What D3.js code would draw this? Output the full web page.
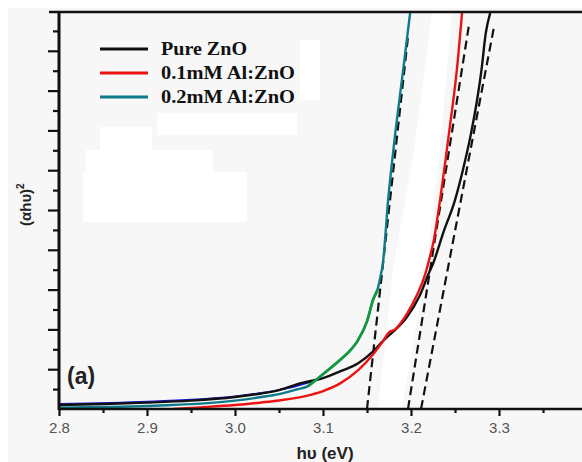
<!DOCTYPE html>
<html>
<head>
<meta charset="utf-8">
<script src="https://cdn.jsdelivr.net/npm/d3@7"></script>
<style>
  html, body { margin: 0; padding: 0; background: #ffffff; }
  svg { display: block; }
</style>
</head>
<body>
<svg id="chart" width="582" height="462"></svg>
<script>
// ---- data (x: photon energy hυ in eV, y: (αhυ)^2 in arbitrary units) ----
const xTicks = [2.8, 2.9, 3.0, 3.1, 3.2, 3.3, 3.4];
const xTickLabels = ["2.8", "2.9", "3.0", "3.1", "3.2", "3.3", "3"];
const seriesNames = ["Pure ZnO", "0.1mM Al:ZnO", "0.2mM Al:ZnO"];

const pureZnO = [
  [2.80,0.20],[2.85,0.25],[2.90,0.32],[2.95,0.42],[3.00,0.60],[3.03,0.78],
  [3.05,0.95],[3.075,1.30],[3.10,1.55],[3.12,1.90],[3.14,2.30],[3.157,2.90],
  [3.17,3.50],[3.18,3.90],[3.195,4.60],[3.21,5.70],[3.22,6.80],[3.225,7.30],
  [3.237,8.90],[3.25,10.5],[3.26,12.2],[3.268,13.8],[3.275,15.5],[3.28,17.0],
  [3.285,18.9],[3.29,19.9]
];
const al01 = [
  [2.93,0.00],[2.96,0.08],[3.00,0.20],[3.03,0.33],[3.05,0.43],[3.08,0.65],
  [3.10,0.90],[3.12,1.30],[3.14,1.95],[3.157,2.75],[3.168,3.40],[3.175,3.85],
  [3.182,4.00],[3.195,4.75],[3.207,5.75],[3.216,6.75],[3.22,7.40],[3.226,8.50],
  [3.233,10.5],[3.243,13.8],[3.252,17.0],[3.258,19.9]
];
const al02 = [
  [2.80,0.07],[2.90,0.15],[3.00,0.42],[3.03,0.60],[3.05,0.75],[3.07,0.98],
  [3.083,1.15],[3.093,1.50],[3.10,1.75],[3.119,2.45],[3.13,2.90],[3.139,3.40],
  [3.15,4.40],[3.157,5.50],[3.162,6.00],[3.165,6.60],[3.168,7.30],[3.174,10.5],
  [3.182,13.8],[3.191,17.0],[3.199,19.9]
];
// part of the 0.2mM curve drawn in green in the original
const al02GreenRange = [3.083, 3.162];
// faint blue trace under the pure ZnO curve at low energy
const blueTrace = [
  [2.80,0.25],[2.90,0.37],[3.00,0.63],[3.03,0.80],[3.06,1.05],[3.09,1.42]
];
// linear extrapolation (tangent) lines: [x at y=0, x at top, y at top]
const tangents = [
  [[3.150,0.0],[3.1966,18.7]],
  [[3.1966,0.0],[3.2659,19.3]],
  [[3.2114,0.0],[3.2943,19.2]]
];

// ---- layout ----
const svg = d3.select("#chart");
const W = 582, H = 462;
const x0 = 59, xEnd = 587, yBase = 409, yTop = 12;

const x = d3.scaleLinear().domain([2.8, 3.4]).range([x0, xEnd]);
const y = d3.scaleLinear().domain([0, 19.95]).range([yBase, yTop]);

// background
svg.append("rect").attr("x", 0).attr("y", 0).attr("width", W).attr("height", H).attr("fill", "#ffffff");
svg.append("rect").attr("x", 8).attr("y", 8).attr("width", W - 8).attr("height", H - 8).attr("fill", "#f7f7f7");

// faint white erasure patches of the original scan
const patches = [
  [157,113,140,22],[100,127,52,23],[86,150,127,22],[83,172,164,50],[300,40,20,60]
];
svg.append("g").selectAll("rect").data(patches).join("rect")
  .attr("x", d => d[0]).attr("y", d => d[1]).attr("width", d => d[2]).attr("height", d => d[3])
  .attr("fill", "#ffffff");
svg.append("path")
  .attr("d", "M432,13 L452,13 L440,150 L426,270 L402,408 L378,408 L393,270 L414,150 Z")
  .attr("fill", "#ffffff");

// clip region for curves
svg.append("clipPath").attr("id", "plotclip").append("rect")
  .attr("x", x0).attr("y", yTop).attr("width", W - x0).attr("height", yBase - yTop);

const line = d3.line().x(d => x(d[0])).y(d => y(d[1])).curve(d3.curveMonotoneX);
const plot = svg.append("g").attr("clip-path", "url(#plotclip)");

// tangent lines
plot.selectAll("path.tan").data(tangents).join("path")
  .attr("class", "tan")
  .attr("d", d3.line().x(d => x(d[0])).y(d => y(d[1])))
  .attr("fill", "none").attr("stroke", "#111").attr("stroke-width", 2.2)
  .attr("stroke-dasharray", "9,5");

// curves
plot.append("path").attr("d", line(al02)).attr("fill", "none")
  .attr("stroke", "#0f7a8a").attr("stroke-width", 2.4);
plot.append("path").attr("d", line(blueTrace)).attr("fill", "none")
  .attr("stroke", "#1a1adc").attr("stroke-width", 2);
plot.append("path").attr("d", line(pureZnO)).attr("fill", "none")
  .attr("stroke", "#111111").attr("stroke-width", 2.4);
plot.append("path").attr("d", line(al01)).attr("fill", "none")
  .attr("stroke", "#ee1111").attr("stroke-width", 2.4);
plot.append("path")
  .attr("d", line(al02.filter(d => d[0] >= al02GreenRange[0] && d[0] <= al02GreenRange[1])))
  .attr("fill", "none").attr("stroke", "#129a3a").attr("stroke-width", 2.6);

// axes
const xAxisMajor = d3.axisBottom(x).tickValues(xTicks).tickSize(7).tickFormat((d, i) => xTickLabels[i]);
const xAxisMinor = d3.axisBottom(x).tickValues(d3.range(2.85, 3.4, 0.1)).tickSize(4).tickFormat("");
const gx = svg.append("g").attr("transform", `translate(0,${yBase})`);
gx.append("g").call(xAxisMinor);
const gxm = gx.append("g").call(xAxisMajor);
gx.selectAll(".domain").remove();
gx.selectAll(".tick line").attr("stroke", "#111").attr("stroke-width", 2.2);
gxm.selectAll(".tick text")
  .attr("dy", "0.71em").attr("y", 13)
  .attr("font-family", "'Liberation Sans', Arial, sans-serif")
  .attr("font-size", 15).attr("fill", "#555");

const yTickVals = d3.range(1, 20);
const gy = svg.append("g").attr("transform", `translate(${x0},0)`);
gy.call(d3.axisLeft(y).tickValues(yTickVals.filter(v => v % 2 === 0)).tickSize(11).tickFormat(""));
gy.append("g").call(d3.axisLeft(y).tickValues(yTickVals.filter(v => v % 2 === 1)).tickSize(6).tickFormat(""));
gy.selectAll(".domain").remove();
gy.selectAll(".tick line").attr("stroke", "#111").attr("stroke-width", 2.2);

// axis lines
svg.append("line").attr("x1", x0 - 1).attr("x2", W).attr("y1", yBase).attr("y2", yBase)
  .attr("stroke", "#111").attr("stroke-width", 2.4);
svg.append("line").attr("x1", x0).attr("x2", x0).attr("y1", yTop).attr("y2", yBase + 1)
  .attr("stroke", "#111").attr("stroke-width", 3);
svg.append("line").attr("x1", 49).attr("x2", W).attr("y1", yTop).attr("y2", yTop)
  .attr("stroke", "#111").attr("stroke-width", 2.4);

// axis titles
svg.append("text").attr("x", 325).attr("y", 459).attr("text-anchor", "middle")
  .attr("font-family", "'Liberation Sans', Arial, sans-serif").attr("font-weight", "bold")
  .attr("font-size", 17).attr("fill", "#222").text("hυ (eV)");

const yt = svg.append("text").attr("transform", "translate(31,226) rotate(-90)")
  .attr("font-family", "'Liberation Sans', Arial, sans-serif").attr("font-weight", "bold")
  .attr("font-size", 15).attr("fill", "#222");
yt.append("tspan").text("(αhυ)");
yt.append("tspan").attr("font-size", 10).attr("dy", -7).text("2");

// panel label
svg.append("text").attr("x", 67).attr("y", 384)
  .attr("font-family", "'Liberation Sans', Arial, sans-serif").attr("font-weight", "bold")
  .attr("font-size", 23).attr("fill", "#222").text("(a)");

// legend
const legendColors = ["#111111", "#ee1111", "#0f7a8a"];
const legendY = [49, 73, 97];
const legendW = [86, 134, 134];
const lg = svg.append("g");
seriesNames.forEach((name, i) => {
  lg.append("line").attr("x1", 100).attr("x2", 148).attr("y1", legendY[i]).attr("y2", legendY[i])
    .attr("stroke", legendColors[i]).attr("stroke-width", 3);
  lg.append("text").attr("x", 161).attr("y", legendY[i] + 6)
    .attr("font-family", "'Liberation Serif', 'Times New Roman', serif").attr("font-weight", "bold")
    .attr("font-size", 18).attr("fill", "#111")
    .attr("textLength", legendW[i]).attr("lengthAdjust", "spacingAndGlyphs")
    .text(name);
});
</script>
</body>
</html>
